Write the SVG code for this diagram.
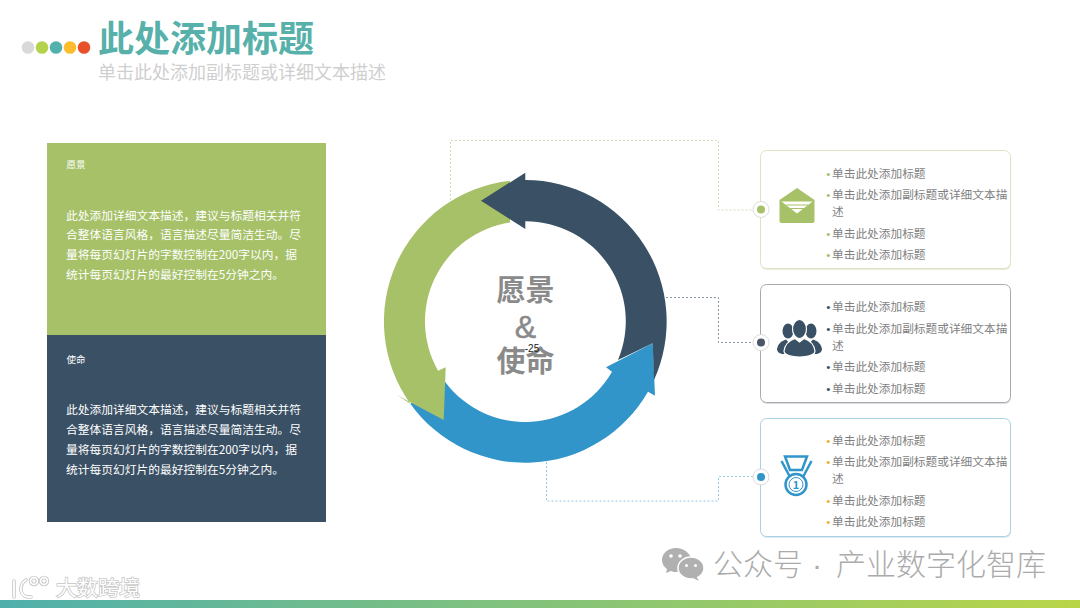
<svg xmlns="http://www.w3.org/2000/svg" width="1080" height="608" viewBox="0 0 1080 608">
<defs>
<linearGradient id="bar" x1="0" x2="1" y1="0" y2="0"><stop offset="0" stop-color="#4fb0ac"/><stop offset="1" stop-color="#b9d548"/></linearGradient>
</defs>
<style>
text{font-family:"Noto Sans CJK SC","Liberation Sans",sans-serif}
.item{font-size:11.7px;fill:#7f7f7f}
.b{font-family:"Liberation Sans",sans-serif}
.pw{font-size:11.75px;fill:#fff}
.ph{font-size:9.5px;fill:#fff}
.card{fill:#fff;stroke-width:1}
.conn{fill:none;stroke-width:1;stroke-dasharray:2 2}
.halo{fill:#fff;stroke:#dcdcdc;stroke-width:1}
.center{font-size:29px;fill:#8a8a8a;text-anchor:middle;font-weight:700}
</style>
<rect width="1080" height="608" fill="#fff"/>
<g id="header">
<circle cx="28" cy="47.5" r="6.3" fill="#d9d9d9"/><circle cx="42" cy="47.5" r="6.3" fill="#b5d24c"/><circle cx="56" cy="47.5" r="6.3" fill="#53b1ad"/><circle cx="70" cy="47.5" r="6.3" fill="#fcbc2e"/><circle cx="84" cy="47.5" r="6.3" fill="#e8502a"/>
<text x="98" y="52" font-size="36" font-weight="700" fill="#57b1aa">此处添加标题</text>
<text x="98" y="79" font-size="18" fill="#cfcfcf">单击此处添加副标题或详细文本描述</text>
</g>
<g id="vision">
<rect x="47" y="143" width="279" height="192" fill="#a6c168"/>
<text class="ph" x="66.5" y="168">愿景</text>
<text class="pw" x="66" y="219.5">此处添加详细文本描述，建议与标题相关并符</text>
<text class="pw" x="66" y="239">合整体语言风格，语言描述尽量简洁生动。尽</text>
<text class="pw" x="66" y="259">量将每页幻灯片的字数控制在200字以内，据</text>
<text class="pw" x="66" y="279">统计每页幻灯片的最好控制在5分钟之内。</text>
</g>
<g id="mission">
<rect x="47" y="335" width="279" height="187" fill="#3a5064"/>
<text class="ph" x="66.5" y="363">使命</text>
<text class="pw" x="66" y="413.5">此处添加详细文本描述，建议与标题相关并符</text>
<text class="pw" x="66" y="433.5">合整体语言风格，语言描述尽量简洁生动。尽</text>
<text class="pw" x="66" y="453.5">量将每页幻灯片的字数控制在200字以内，据</text>
<text class="pw" x="66" y="473.5">统计每页幻灯片的最好控制在5分钟之内。</text>
</g>
<g id="connectors">
<path class="conn" stroke="#d5dcb8" d="M450.500 200V140.500H718.500V210H753"/>
<path class="conn" stroke="#8a96a2" d="M666 297.500H718.500V342.500H753"/>
<path class="conn" stroke="#98c8e2" d="M546.500 462V501H718.500V476.500H753"/>
</g>
<g id="ring">
<path fill="#3195c9" d="M410.300 403.700A141.500 141.500 0 0 0 648 391.700L655 395.700L652.700 343.300L606 367.300L612 371.700A100 100 0 0 1 445 381.700Z"/>
<path fill="#a6c168" d="M510 180.800A141.500 141.500 0 0 0 410.300 403.700L396.700 395L443.700 420L445.700 367.300L438 370.700A100 100 0 0 1 510 222.500Z"/>
<path fill="#3a5064" d="M481 200.700L525.300 172.700V180A141.500 141.500 0 0 1 654 380L652.700 343.300L618 360A100 100 0 0 0 525.300 221.300V229Z"/>
</g>
<g id="center-label">
<text class="center" x="525.500" y="301">愿景</text>
<text class="center" x="525.500" y="338" stroke="#8a8a8a" stroke-width="0.500" style="font-family:'Liberation Sans',sans-serif;font-weight:400;font-size:32px">&amp;</text>
<text class="center" x="525.500" y="372">使命</text>
<text x="532" y="352" font-size="10" fill="#222" text-anchor="middle" style="font-family:'Liberation Sans',sans-serif">-25</text>
</g>
<g id="card-1">
<rect x="761" y="152" width="250" height="118" rx="6" fill="#e9ebdc"/>
<rect class="card" x="760.500" y="150.500" width="250" height="118" rx="6" stroke="#dfe3c6"/>
<circle class="halo" cx="761" cy="209.500" r="8"/><circle cx="761" cy="209.500" r="4" fill="#a6c168"/>
<path fill="#a6c168" d="M797 188L814.500 200V221a2 2 0 0 1-2 2H781.500a2 2 0 0 1-2-2V200Z"/>
<path fill="#fff" d="M781.500 201.500H812.500L797 213.500Z"/>
<path stroke="#a6c168" stroke-width="1" d="M786 205H808M790 208.500H804"/>
<text class="item" y="177.500"><tspan class="b" fill="#a6c168" x="826.300">•</tspan><tspan x="832">单击此处添加标题</tspan></text>
<text class="item" y="199"><tspan class="b" fill="#a6c168" x="826.300">•</tspan><tspan x="832">单击此处添加副标题或详细文本描</tspan></text>
<text class="item" x="832" y="216">述</text>
<text class="item" y="237.500"><tspan class="b" fill="#a6c168" x="826.300">•</tspan><tspan x="832">单击此处添加标题</tspan></text>
<text class="item" y="259"><tspan class="b" fill="#a6c168" x="826.300">•</tspan><tspan x="832">单击此处添加标题</tspan></text>
</g>
<g id="card-2">
<rect x="761" y="286" width="250" height="118" rx="6" fill="#dcdde0"/>
<rect class="card" x="760.500" y="284.500" width="250" height="118" rx="6" stroke="#a8abae"/>
<circle class="halo" cx="761" cy="342.500" r="8"/><circle cx="761" cy="342.500" r="4" fill="#4a5568"/>
<g fill="#3a5064">
<ellipse cx="788" cy="331" rx="5.500" ry="7.500"/><ellipse cx="811" cy="331" rx="5.500" ry="7.500"/>
<path d="M777 349C778 344 781 341 786 339.500L792 346L784 354C780 354 777 352 777 349ZM822 349C821 344 818 341 813 339.500L807 346L815 354C819 354 822 352 822 349Z"/>
<g stroke="#fff" stroke-width="1.200">
<ellipse cx="799.500" cy="329" rx="7" ry="9.500"/>
<path d="M784 351C785 344 789 340.500 795 338.500L799.500 342L804 338.500C810 340.500 814 344 815 351C815 355 807 357 799.500 357C792 357 784 355 784 351Z"/>
</g>
</g>
<text class="item" y="311"><tspan class="b" fill="#3a5064" x="826.300">•</tspan><tspan x="832">单击此处添加标题</tspan></text>
<text class="item" y="332.500"><tspan class="b" fill="#3a5064" x="826.300">•</tspan><tspan x="832">单击此处添加副标题或详细文本描</tspan></text>
<text class="item" x="832" y="349.500">述</text>
<text class="item" y="371"><tspan class="b" fill="#3a5064" x="826.300">•</tspan><tspan x="832">单击此处添加标题</tspan></text>
<text class="item" y="392.500"><tspan class="b" fill="#3a5064" x="826.300">•</tspan><tspan x="832">单击此处添加标题</tspan></text>
</g>
<g id="card-3">
<rect x="761" y="420" width="250" height="118" rx="6" fill="#dfeaf0"/>
<rect class="card" x="760.500" y="418.500" width="250" height="118" rx="6" stroke="#a9d0e3"/>
<circle class="halo" cx="761" cy="477" r="8"/><circle cx="761" cy="477" r="4" fill="#3195c9"/>
<g fill="none" stroke="#3195c9">
<path stroke-width="2.500" d="M785 456.500H807L802 470H790Z"/>
<path stroke-width="2.500" d="M781.500 461L790 477M811.500 461L803 477"/>
<circle cx="796" cy="484.500" r="10.500" stroke-width="2.500"/>
<circle cx="796" cy="484.500" r="7" stroke-width="1"/>
</g>
<text x="796" y="489" font-size="11" font-weight="700" fill="#3195c9" text-anchor="middle">1</text>
<text class="item" y="444.500"><tspan class="b" fill="#f0b030" x="826.300">•</tspan><tspan x="832">单击此处添加标题</tspan></text>
<text class="item" y="466"><tspan class="b" fill="#f0b030" x="826.300">•</tspan><tspan x="832">单击此处添加副标题或详细文本描</tspan></text>
<text class="item" x="832" y="483">述</text>
<text class="item" y="505"><tspan class="b" fill="#f0b030" x="826.300">•</tspan><tspan x="832">单击此处添加标题</tspan></text>
<text class="item" y="526"><tspan class="b" fill="#f0b030" x="826.300">•</tspan><tspan x="832">单击此处添加标题</tspan></text>
</g>
<g id="footer">
<rect y="600" width="1080" height="8" fill="url(#bar)"/>
<g id="wechat-mark">
<path fill="#b0b0b0" d="M676 548C668 548 662 553 662 560C662 564 664 567 667 569L666 573L671 571C673 572 675 572 677 572L692 560C690 553 684 548 676 548Z"/>
<ellipse cx="691" cy="568" rx="13" ry="11" fill="#b0b0b0" stroke="#fff" stroke-width="1.500"/>
<path fill="#b0b0b0" d="M696 576L699 581L693 578Z"/>
<circle cx="671" cy="556" r="1.800" fill="#fff"/><circle cx="680" cy="556" r="1.800" fill="#fff"/><circle cx="686.500" cy="565.500" r="1.500" fill="#fff"/><circle cx="695.500" cy="565.500" r="1.500" fill="#fff"/>
</g>
<text y="575" font-size="30" fill="#ababab" font-weight="300"><tspan x="713">公众号</tspan><tspan class="b" x="812">·</tspan><tspan x="836">产业数字化智库</tspan></text>
<g id="logo-mark" fill="none">
<g stroke="#c4c4c4" stroke-width="3.500" stroke-linecap="round"><path d="M14 581V597M26 580C18 585 19 598 31 597"/><circle cx="34" cy="581" r="3.500"/><circle cx="44" cy="581" r="3.500"/></g>
<g stroke="#fff" stroke-width="1.800" stroke-linecap="round"><path d="M14 581V597M26 580C18 585 19 598 31 597"/><circle cx="34" cy="581" r="3.500"/><circle cx="44" cy="581" r="3.500"/></g>
</g>
<text x="56" y="595" font-size="21" fill="#fff" stroke="#c4c4c4" stroke-width="1.500" paint-order="stroke" textLength="84">大数跨境</text>
</g>
</svg>
